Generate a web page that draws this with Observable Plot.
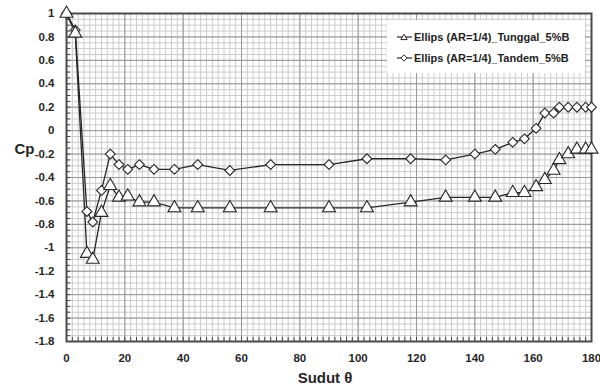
<!DOCTYPE html>
<html>
<head>
<meta charset="utf-8">
<script src="https://cdn.jsdelivr.net/npm/d3@7"></script>
<script src="https://cdn.jsdelivr.net/npm/@observablehq/plot@0.6"></script>
<style>
  html, body { margin: 0; padding: 0; background: #fff; }
  #chart { position: relative; width: 600px; height: 392px; font-family: "Liberation Sans", Arial, sans-serif; }
  #legend { position: absolute; left: 387px; top: 20px; width: 198px; height: 53px; background: #fff; }
  .row { position: absolute; left: 10px; display: flex; align-items: center; font-size: 11px; font-weight: bold; color: #222; white-space: nowrap; }
  .row svg { margin-right: 2px; }
</style>
</head>
<body>
<div id="chart"></div>
<script>
// Wind angle (degrees) at each pressure tap
const angles = [0, 3, 7, 9, 12, 15, 18, 21, 25, 30, 37, 45, 56, 70, 90, 103, 118, 130, 140, 147, 153, 157, 161, 164, 167, 169, 172, 175, 178, 180];

// Pressure coefficient Cp, single ellipse (AR = 1/4)
const cpTunggal = [1, 0.83, -1.05, -1.10, -0.70, -0.47, -0.57, -0.56, -0.61, -0.61, -0.66, -0.66, -0.66, -0.66, -0.66, -0.66, -0.61, -0.57, -0.57, -0.57, -0.53, -0.53, -0.48, -0.42, -0.34, -0.25, -0.20, -0.16, -0.16, -0.16];

// Pressure coefficient Cp, tandem ellipses (AR = 1/4)
const cpTandem = [1, 0.86, -0.69, -0.78, -0.51, -0.20, -0.29, -0.33, -0.29, -0.33, -0.33, -0.29, -0.34, -0.29, -0.29, -0.24, -0.24, -0.25, -0.20, -0.16, -0.10, -0.07, 0.02, 0.15, 0.15, 0.20, 0.20, 0.20, 0.20, 0.20];

const seriesNames = ["Ellips (AR=1/4)_Tunggal_5%B", "Ellips (AR=1/4)_Tandem_5%B"];

// Axis ticks and grid steps
const xTicks = [0, 20, 40, 60, 80, 100, 120, 140, 160, 180];
const yTicks = [-1.8, -1.6, -1.4, -1.2, -1, -0.8, -0.6, -0.4, -0.2, 0, 0.2, 0.4, 0.6, 0.8, 1];
const xMinor = d3.range(0, 180.001, 2);
const yMinor = d3.range(-36, 21).map(i => i * 0.05);

const tunggal = angles.map((a, i) => ({angle: a, cp: cpTunggal[i]}));
const tandem = angles.map((a, i) => ({angle: a, cp: cpTandem[i]}));

const fmt = d => String(+d.toFixed(1));
const ink = "#262626";

const plot = Plot.plot({
  width: 600,
  height: 392,
  marginLeft: 66,
  marginRight: 9,
  marginTop: 13,
  marginBottom: 51,
  style: {fontFamily: '"Liberation Sans", Arial, sans-serif', background: "#fff", color: ink},
  x: {domain: [0, 180]},
  y: {domain: [-1.8, 1]},
  marks: [
    // graph-paper grid
    Plot.ruleX(xMinor, {stroke: "#cbcbcb", strokeWidth: 1}),
    Plot.ruleY(yMinor, {stroke: "#cbcbcb", strokeWidth: 1}),
    Plot.ruleX(xTicks, {stroke: "#979797", strokeWidth: 1}),
    Plot.ruleY(yTicks, {stroke: "#979797", strokeWidth: 1}),
    // inward minor tick marks along bottom and left edges
    Plot.ruleX(xMinor, {x: d => d, y1: -1.8, y2: -1.765, stroke: "#444"}),
    Plot.ruleY(yMinor, {y: d => d, x1: 0, x2: 1.4, stroke: "#444"}),
    Plot.frame({stroke: "#4a4a4a", strokeWidth: 2}),
    Plot.axisX({ticks: xTicks, tickSize: 0, tickPadding: 12, tickFormat: d => String(d), fontSize: 11.5, fontWeight: "bold", label: null}),
    Plot.axisY({ticks: yTicks, tickSize: 0, tickPadding: 12, tickFormat: fmt, fontSize: 11.5, fontWeight: "bold", label: null}),
    // series
    Plot.line(tandem, {x: "angle", y: "cp", stroke: ink, strokeWidth: 1.3}),
    Plot.line(tunggal, {x: "angle", y: "cp", stroke: ink, strokeWidth: 1.3}),
    Plot.dot(tandem, {x: "angle", y: "cp", symbol: "diamond2", r: 4.4, fill: "#fff", stroke: ink, strokeWidth: 1.1}),
    Plot.dot(tunggal, {x: "angle", y: "cp", symbol: "triangle", r: 4.8, fill: "#fff", stroke: ink, strokeWidth: 1.1}),
    // axis titles
    Plot.text(["Cp"], {frameAnchor: "left", textAnchor: "middle", dx: -42, dy: -28, fontSize: 15, fontWeight: "bold", fill: ink}),
    Plot.text(["Sudut θ"], {frameAnchor: "bottom", dx: -4, dy: 41, fontSize: 15, fontWeight: "bold", fill: ink})
  ]
});

const chart = document.getElementById("chart");
chart.appendChild(plot);

// legend box in the top-right corner of the plot area
const legend = document.createElement("div");
legend.id = "legend";
const symbolPaths = [
  "M7,3.2 L10.2,8.6 L3.8,8.6 Z",
  "M7,2.8 L10.2,6 L7,9.2 L3.8,6 Z"
];
seriesNames.forEach((name, i) => {
  const row = document.createElement("div");
  row.className = "row";
  row.style.top = (i === 0 ? 11 : 32) + "px";
  row.innerHTML =
    `<svg width="15" height="12" viewBox="0 0 15 12">` +
    `<line x1="0" y1="6" x2="15" y2="6" stroke="${ink}" stroke-width="1.2"/>` +
    `<path d="${symbolPaths[i]}" fill="#fff" stroke="${ink}" stroke-width="1"/></svg>` +
    `<span>${name}</span>`;
  legend.appendChild(row);
});
chart.appendChild(legend);
</script>
</body>
</html>
